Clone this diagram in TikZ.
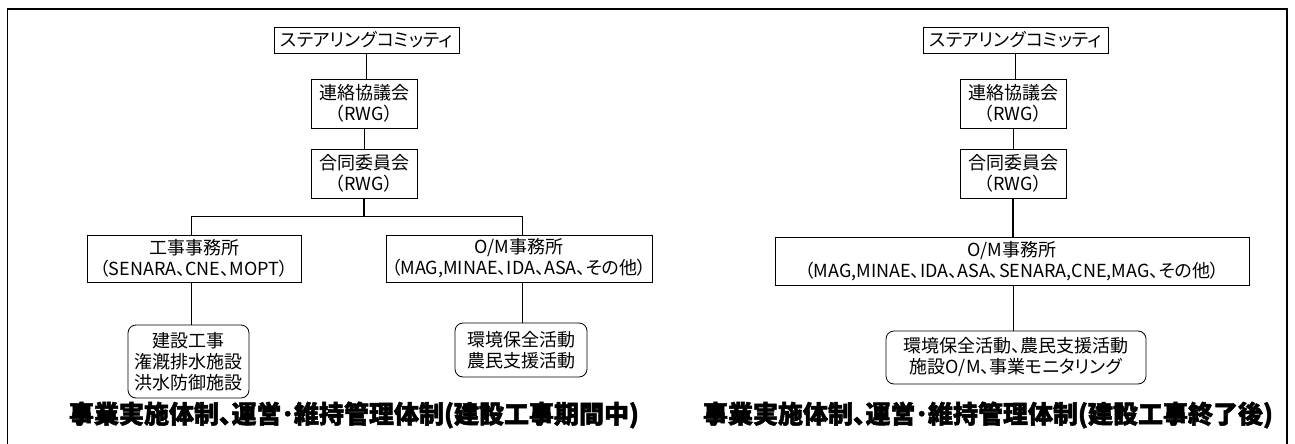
\documentclass[tikz,border=0pt]{standalone}
\usepackage{fontspec}
\setmainfont{Noto Sans CJK JP}[RawFeature=+palt]
\newfontfamily\titlefont{Noto Sans CJK JP}[RawFeature=+palt,BoldFeatures={FakeBold=2}]
\begin{document}
\begin{tikzpicture}[x=1pt,y=-1pt,
  box/.style={draw, line width=0.8pt, inner sep=0pt, align=center, font=\fontsize{18}{21}\selectfont},
  rbox/.style={box, rounded corners=8pt},
  conn/.style={line width=0.8pt},
  title/.style={inner sep=0pt, font=\titlefont\bfseries\fontsize{25}{28}\selectfont}]
\useasboundingbox (0,0) rectangle (1295,444);
\draw[line width=1.4pt] (7.5,446) -- (7.5,9) -- (1287,9) -- (1287,446);
% ---------------- left diagram
\node[box, minimum width=185, minimum height=26] (steerL) at (366.5,40) {ステアリングコミッティ};
\node[box, minimum width=106, minimum height=49] (rlkL) at (364,103.5) {連絡協議会\\（RWG）};
\node[box, minimum width=106, minimum height=49] (godoL) at (364,173.5) {合同委員会\\（RWG）};
\coordinate (barLa) at (191,216);
\coordinate (barLb) at (522,216);
\node[box, minimum width=214, minimum height=47] (kojiL) at (194,258.5) {工事事務所\\（SENARA、CNE、MOPT）};
\node[box, minimum width=266, minimum height=47] (omL) at (519,258.5) {O/M事務所\\（MAG,MINAE、IDA、ASA、その他）};
\node[rbox, minimum width=121, minimum height=73] (kenL) at (188.5,361.5) {建設工事\\潅漑排水施設\\洪水防御施設};
\node[rbox, minimum width=132, minimum height=54] (kanL) at (521,350) {環境保全活動\\農民支援活動};
\node[title] (titleL) at (354,415) {事業実施体制、運営･維持管理体制(建設工事期間中)};
\draw[conn] (steerL) -- (steerL |- rlkL.north);
\draw[conn] (rlkL) -- (godoL);
\draw[line width=1.3pt] (godoL.south) -- (godoL.south |- barLa);
\draw[conn] (barLa) -- (barLb);
\draw[conn] (barLa) -- (barLa |- kojiL.north);
\draw[conn] (barLb) -- (barLb |- omL.north);
\draw[conn] (kojiL.south -| barLa) -- (barLa |- kenL.north);
\draw[conn] (omL.south -| barLb) -- (barLb |- kanL.north);
% ---------------- right diagram
\node[box, minimum width=185, minimum height=26] (steerR) at (1015.5,40) {ステアリングコミッティ};
\node[box, minimum width=106, minimum height=49] (rlkR) at (1013,103.5) {連絡協議会\\（RWG）};
\node[box, minimum width=106, minimum height=49] (godoR) at (1013,173.5) {合同委員会\\（RWG）};
\node[box, minimum width=474, minimum height=48] (omR) at (1012,261) {O/M事務所\\（MAG,MINAE、IDA、ASA、SENARA,CNE,MAG、その他）};
\node[rbox, minimum width=260, minimum height=53] (actR) at (1016,357.5) {環境保全活動、農民支援活動\\施設O/M、事業モニタリング};
\node[title] (titleR) at (988,415) {事業実施体制、運営･維持管理体制(建設工事終了後)};
\draw[conn] (steerR) -- (steerR |- rlkR.north);
\draw[conn] (rlkR) -- (godoR);
\draw[line width=1.3pt] (godoR.south) -- (godoR.south |- omR.north);
\draw[conn] (omR.south -| godoR.south) -- (godoR.south |- actR.north);
\end{tikzpicture}
\end{document}
